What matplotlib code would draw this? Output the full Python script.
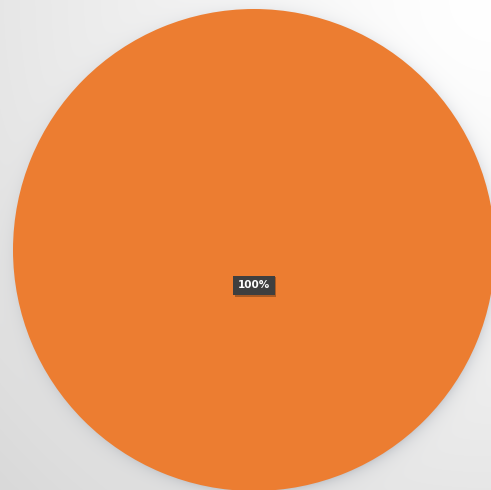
import numpy as np
import matplotlib.pyplot as plt
import matplotlib.patheffects as pe

# data
labels = ['Series 1']
values = [100]
colors = ['#EC7D31']

W, H = 491, 490
fig = plt.figure(figsize=(W / 100, H / 100), dpi=100)

# background: soft gradient, lighter at top right
yy, xx = np.mgrid[0:H, 0:W].astype(float)
d = np.sqrt((xx - W) ** 2 + yy ** 2) / (np.sqrt(2) * W)
bg = 255 - 38 * d ** 1.3

# pie placement in pixels (from top-left)
cx, cy, R = 254, 250, 241
r = np.sqrt((xx - cx - 2) ** 2 + (yy - cy - 3) ** 2)
shade = np.where(r > R - 4, 32 * np.exp(-np.clip(r - (R - 4), 0, None) / 6.5), 32)
img = np.stack([bg - shade, bg - shade * 0.93, bg - shade * 0.8], axis=-1)
img = np.clip(img, 0, 255) / 255.0

bg_ax = fig.add_axes([0, 0, 1, 1])
bg_ax.imshow(img, interpolation='bilinear', aspect='auto')
bg_ax.axis('off')

w = 2 * R / W
h = 2 * R / H
ax = fig.add_axes([cx / W - w / 2, 1 - cy / H - h / 2, w, h])
ax.patch.set_alpha(0)
wedges, texts, autotexts = ax.pie(values, labels=None, colors=colors, startangle=90,
                                  counterclock=False, autopct='%1.0f%%', pctdistance=0,
                                  wedgeprops=dict(linewidth=0))
ax.set_xlim(-1, 1)
ax.set_ylim(-1, 1)
for wd in wedges:
    wd.set_clip_on(False)

lab_y = -0.147
for t in autotexts:
    t.set_position((0, lab_y))
    t.set_color('white')
    t.set_fontweight('bold')
    t.set_fontsize(7.5)
    t.set_bbox(dict(boxstyle='square,pad=0.45', facecolor='#3F3F3F', edgecolor='none'))
    t.get_bbox_patch().set_path_effects(
        [pe.withSimplePatchShadow(offset=(1.2, -1.2), shadow_rgbFace='#5a3010', alpha=0.45)])

fig.savefig('out.png', dpi=100)
